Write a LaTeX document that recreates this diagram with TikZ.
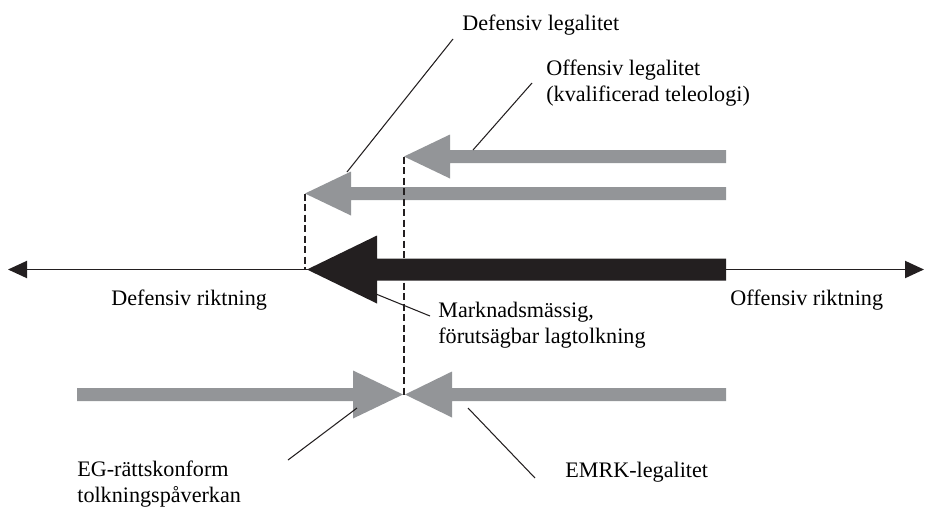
\documentclass[tikz,border=0pt]{standalone}
\usepackage{fontspec}
\setmainfont{Liberation Serif}
\usetikzlibrary{arrows.meta}
\definecolor{armgray}{RGB}{147,149,152}
\definecolor{armblack}{RGB}{35,31,32}
\newcommand\fatarrow[7]{\fill[#1] (#2,#5-#7) -- (#3,#5-#7) -- (#3,#5-#6) -- (#4,#5) -- (#3,#5+#6) -- (#3,#5+#7) -- (#2,#5+#7) -- cycle;}

\begin{document}
\begin{tikzpicture}[
				x=0.2mm, y=-0.2mm,
				lab/.style={anchor=base west,align=left,font=\fontsize{12.6}{14.74}\selectfont},
				lead/.style={draw=armblack,line width=0.6pt},
				guide/.style={draw=armblack,line width=0.6pt,dash pattern=on 1.4mm off 0.7mm},
				axis/.style={draw=armblack,line width=1.1pt,{Triangle[length=3.8mm,width=3.4mm]}-{Triangle[length=3.8mm,width=3.4mm]}},
				inner sep=0pt]
				\useasboundingbox (0,0) rectangle (927,507);
				\coordinate (DefEnd) at (8,269.5);
				\coordinate (OffEnd) at (924,269.5);
				\draw [axis] (DefEnd) -- (OffEnd);
				\coordinate (TipK) at (307,269.5);
				\coordinate (TipA) at (305,193.5);
				\coordinate (TipB) at (404,156.5);
				\coordinate (Meet) at (404,394.5);
				\fatarrow{armblack}{726}{377}{307}{269.5}{34}{11}
				\fatarrow{armgray}{726}{351}{305}{193.5}{22}{6.5}
				\fatarrow{armgray}{726}{450}{404}{156.5}{22}{6.5}
				\fatarrow{armgray}{77}{353}{403}{394.5}{24}{6.5}
				\fatarrow{armgray}{726}{452}{405}{394.5}{23}{6.5}
				\draw [guide] (TipA) -- (TipA |- TipK);
				\draw [guide] (TipB) -- (Meet);
				\node [lab] (DefLeg) 	at (462,30)		{Defensiv legalitet};
				\node [lab] (OffLeg) 	at (546,101)	{Offensiv legalitet\\(kvalificerad teleologi)};
				\node [lab] (DefRikt) 	at (111,305)	{Defensiv riktning};
				\node [lab] (OffRikt) 	at (730,305)	{Offensiv riktning};
				\node [lab] (Mark) 		at (438,343)	{Marknadsmässig,\\förutsägbar lagtolkning};
				\node [lab] (EGr) 		at (77,502)		{EG-rättskonform\\tolkningspåverkan};
				\node [lab] (EMRK) 		at (565,477)	{EMRK-legalitet};
				\coordinate (DefLegTop) at (453,39);
				\coordinate (DefLegEnd) at (347,172);
				\coordinate (OffLegTop) at (532,83);
				\coordinate (OffLegEnd) at (473,150);
				\coordinate (MarkTop) 	at (376,294);
				\coordinate (MarkEnd) 	at (430,316);
				\coordinate (EGrTop) 	at (357,408);
				\coordinate (EGrEnd) 	at (288,460);
				\coordinate (EMRKTop) 	at (468,408);
				\coordinate (EMRKEnd) 	at (535,478);
				\draw [lead] (DefLegTop) -- (DefLegEnd);
				\draw [lead] (OffLegTop) -- (OffLegEnd);
				\draw [lead] (MarkTop) -- (MarkEnd);
				\draw [lead] (EGrTop) -- (EGrEnd);
				\draw [lead] (EMRKTop) -- (EMRKEnd);
			\end{tikzpicture}
\end{document}
